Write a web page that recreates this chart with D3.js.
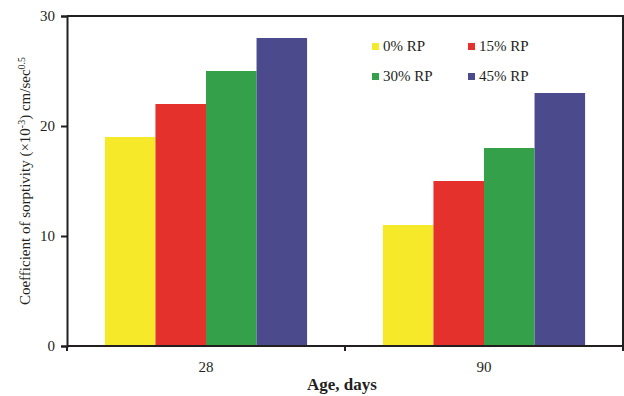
<!DOCTYPE html>
<html>
<head>
<meta charset="utf-8">
<script src="https://cdn.jsdelivr.net/npm/d3@7"></script>
<style>
  body { margin: 0; background: #fff; }
  text { font-family: "Liberation Serif", "DejaVu Serif", serif; fill: #231f20; }
</style>
</head>
<body>
<div id="chart"></div>
<script>
// Chart data
const ages = ["28", "90"];
const seriesNames = ["0% RP", "15% RP", "30% RP", "45% RP"];
const values0 = [19, 11];
const values15 = [22, 15];
const values30 = [25, 18];
const values45 = [28, 23];
const yTicks = [0, 10, 20, 30];
const colors = ["#f5e92a", "#e4312b", "#35a04a", "#4b4a8d"];

const seriesValues = [values0, values15, values30, values45];
const data = ages.map((a, i) => {
  const row = { age: a };
  seriesNames.forEach((s, j) => { row[s] = seriesValues[j][i]; });
  return row;
});

const width = 624, height = 396;
const margin = { top: 16, right: 1, bottom: 50, left: 67 };

const svg = d3.select("#chart").append("svg")
  .attr("width", width)
  .attr("height", height);

const x0 = d3.scaleBand()
  .domain(ages)
  .range([margin.left, width - margin.right])
  .padding(0);

const x1 = d3.scaleBand()
  .domain(seriesNames)
  .range([0, x0.bandwidth()])
  .paddingInner(0)
  .paddingOuter(0.75);

const y = d3.scaleLinear()
  .domain([0, 30])
  .range([height - margin.bottom, margin.top]);

const color = d3.scaleOrdinal().domain(seriesNames).range(colors);

// Bars
svg.append("g")
  .selectAll("g")
  .data(data)
  .join("g")
  .attr("transform", d => `translate(${x0(d.age)},0)`)
  .selectAll("rect")
  .data(d => seriesNames.map(s => ({ key: s, value: d[s] })))
  .join("rect")
  .attr("x", d => x1(d.key))
  .attr("y", d => y(d.value))
  .attr("width", x1.bandwidth())
  .attr("height", d => y(0) - y(d.value))
  .attr("fill", d => color(d.key));

// Frame (top + right)
svg.append("path")
  .attr("d", `M${margin.left},${margin.top}H${width - margin.right}V${height - margin.bottom}`)
  .attr("fill", "none")
  .attr("stroke", "#231f20")
  .attr("stroke-width", 2);

// X axis: ticks at band boundaries, labels at band centres
const xAxis = svg.append("g")
  .attr("transform", `translate(0,${height - margin.bottom})`);
xAxis.append("line")
  .attr("x1", margin.left).attr("x2", width - margin.right)
  .attr("stroke", "#231f20").attr("stroke-width", 2);
const xBounds = [x0(ages[0]), x0(ages[1]), x0(ages[1]) + x0.bandwidth()];
xAxis.selectAll(".xt")
  .data(xBounds)
  .join("line")
  .attr("x1", d => d).attr("x2", d => d)
  .attr("y1", 0).attr("y2", 5)
  .attr("stroke", "#231f20").attr("stroke-width", 2);
xAxis.selectAll(".xl")
  .data(ages)
  .join("text")
  .attr("x", d => x0(d) + x0.bandwidth() / 2)
  .attr("y", 26)
  .attr("text-anchor", "middle")
  .style("font-size", "15px")
  .text(d => d);

// Y axis
const yAxis = svg.append("g")
  .attr("transform", `translate(${margin.left},0)`)
  .call(d3.axisLeft(y).tickValues(yTicks).tickSize(6).tickPadding(6));
yAxis.select(".domain").attr("stroke", "#231f20").attr("stroke-width", 2);
yAxis.selectAll(".tick line").attr("stroke", "#231f20").attr("stroke-width", 2);
yAxis.selectAll(".tick text")
  .style("font-family", "'Liberation Serif', serif")
  .style("font-size", "15px")
  .attr("fill", "#231f20");

// Axis titles
svg.append("text")
  .attr("x", x0.range()[0] + (x0.range()[1] - x0.range()[0]) / 2 - 3)
  .attr("y", 390)
  .attr("text-anchor", "middle")
  .style("font-size", "17px")
  .style("font-weight", "bold")
  .text("Age, days");

const yLabel = svg.append("text")
  .attr("transform", `translate(30,${(y(0) + y(30)) / 2})rotate(-90)`)
  .attr("text-anchor", "middle")
  .style("font-size", "15px");
yLabel.append("tspan").text("Coefficient of sorptivity (×10");
yLabel.append("tspan").attr("dy", -5).style("font-size", "10px").text("-3");
yLabel.append("tspan").attr("dy", 5).text(") cm/sec");
yLabel.append("tspan").attr("dy", -5).style("font-size", "10px").text("0.5");

// Legend
const legend = svg.append("g").attr("transform", "translate(372,43)");
seriesNames.forEach((s, i) => {
  const row = legend.append("g")
    .attr("transform", `translate(${(i % 2) * 96},${Math.floor(i / 2) * 30})`);
  row.append("rect")
    .attr("width", 7).attr("height", 7)
    .attr("fill", color(s));
  row.append("text")
    .attr("x", 11).attr("y", 8)
    .style("font-size", "15px")
    .text(s);
});
</script>
</body>
</html>
